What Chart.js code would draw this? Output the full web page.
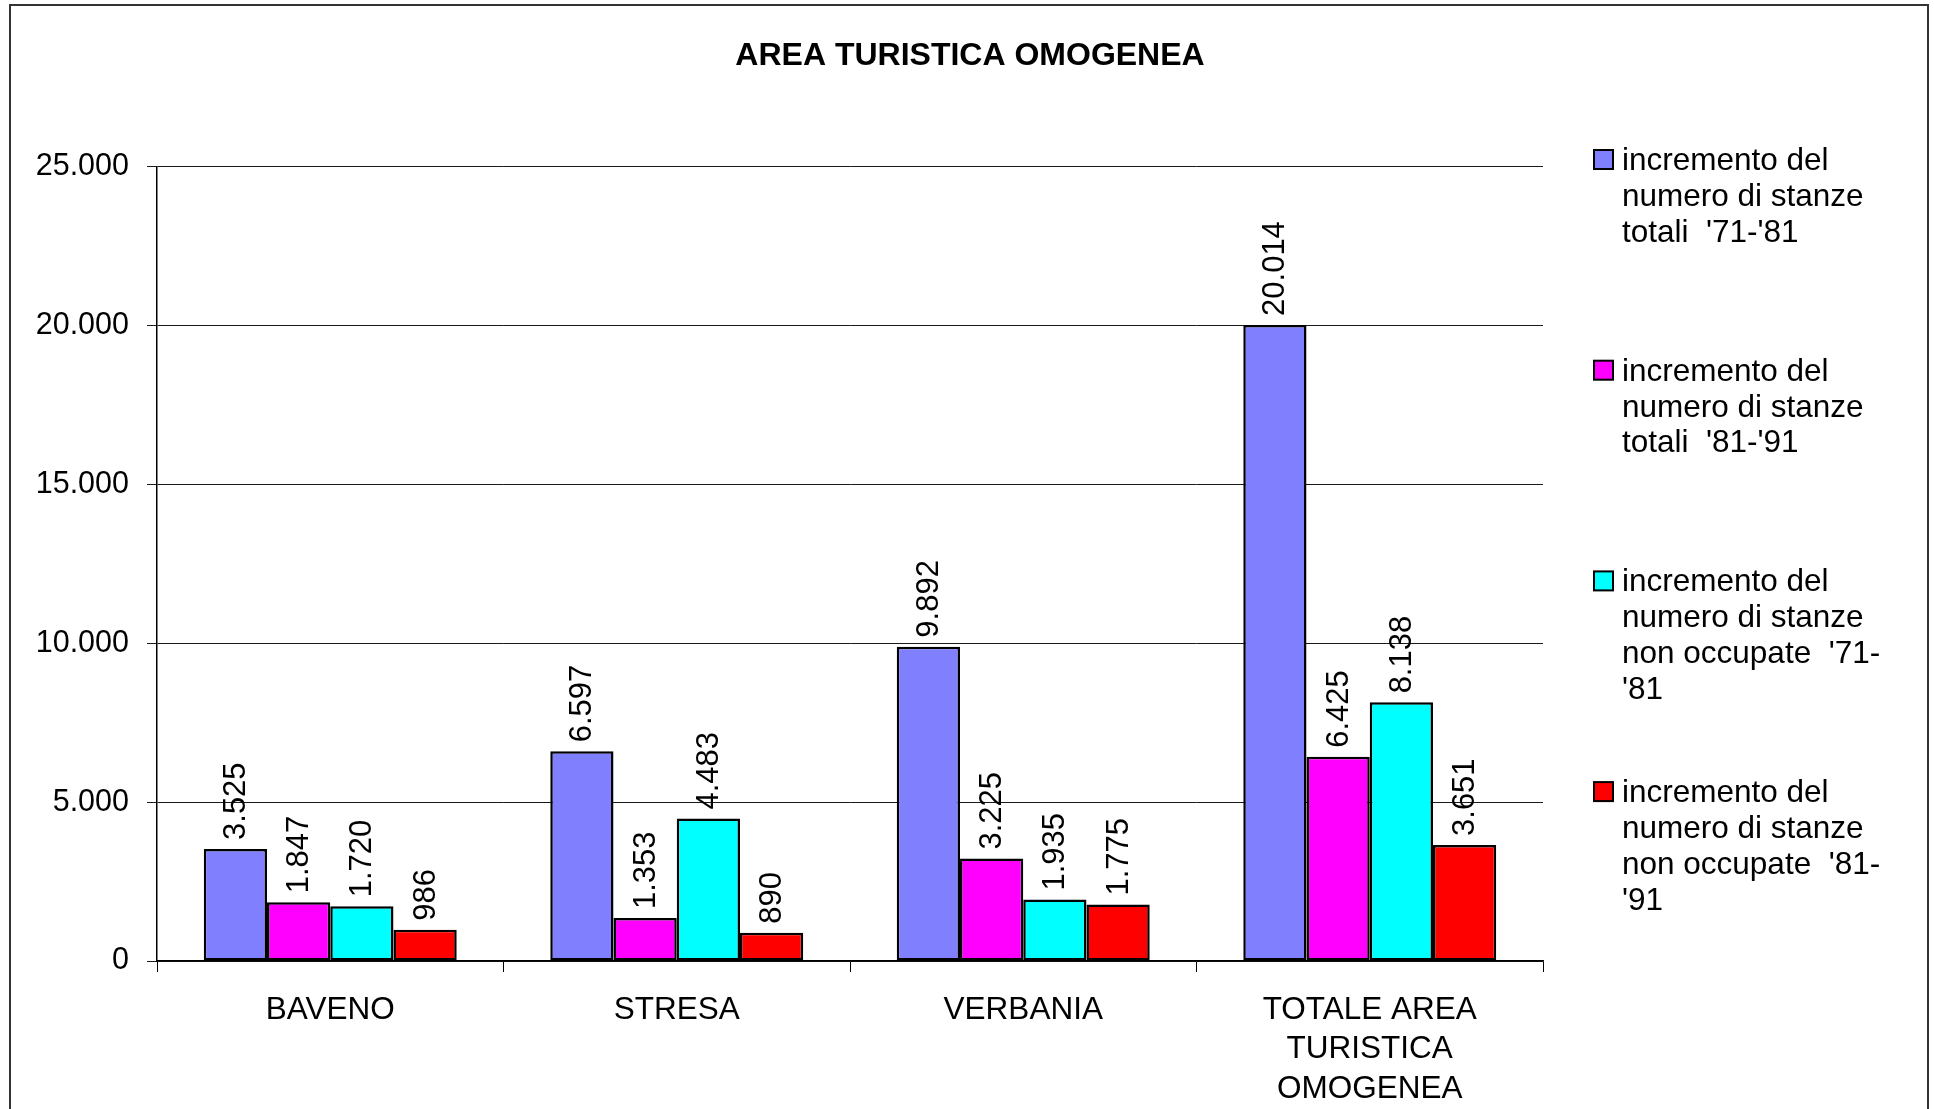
<!DOCTYPE html>
<html lang="it">
<head>
<meta charset="utf-8">
<title>Area turistica omogenea</title>
<script src="https://cdn.jsdelivr.net/npm/chart.js@4.4.1/dist/chart.umd.min.js"></script>
<style>
  html, body { margin: 0; padding: 0; background: #fff; overflow: hidden; }
</style>
</head>
<body>
<canvas id="chart" width="1934" height="1109"></canvas>
<script>
// Dati
const chartTitle = 'AREA TURISTICA OMOGENEA';
const categories = ['BAVENO', 'STRESA', 'VERBANIA', ['TOTALE AREA', 'TURISTICA', 'OMOGENEA']];
const totali7181 = [3525, 6597, 9892, 20014];
const totali8191 = [1847, 1353, 3225, 6425];
const nonOccupate7181 = [1720, 4483, 1935, 8138];
const nonOccupate8191 = [986, 890, 1775, 3651];
const seriesLegend = [
    ['incremento del', 'numero di stanze', "totali  '71-'81"],
    ['incremento del', 'numero di stanze', "totali  '81-'91"],
    ['incremento del', 'numero di stanze', "non occupate  '71-", "'81"],
    ['incremento del', 'numero di stanze', "non occupate  '81-", "'91"]
];
const seriesColors = ['#8080FF', '#FF00FF', '#00FFFF', '#FF0000'];
const yMax = 25000;
const yStep = 5000;

const FONT = '"Liberation Sans", Arial, sans-serif';
Chart.defaults.font.family = FONT;
Chart.defaults.color = '#000';

// 25000 -> "25.000"
function formatIt(n) {
    return String(n).replace(/\B(?=(\d{3})+(?!\d))/g, '.');
}

// Cornice esterna, sfondo bianco e titolo centrato sulla pagina
const framePlugin = {
    id: 'frame',
    beforeDraw(chart) {
        const ctx = chart.ctx;
        ctx.save();
        ctx.fillStyle = '#fff';
        ctx.fillRect(0, 0, chart.width, chart.height);
        ctx.strokeStyle = '#333';
        ctx.lineWidth = 2;
        ctx.strokeRect(10, 5, 1918, chart.height + 20);
        ctx.fillStyle = '#000';
        ctx.font = 'bold 32px ' + FONT;
        ctx.textAlign = 'center';
        ctx.textBaseline = 'alphabetic';
        ctx.fillText(chartTitle, 970, 65);
        ctx.restore();
    }
};

// Etichette verticali sopra le barre
const valueLabels = {
    id: 'valueLabels',
    afterDatasetsDraw(chart) {
        const ctx = chart.ctx;
        ctx.save();
        ctx.font = '31px ' + FONT;
        ctx.fillStyle = '#000';
        ctx.textAlign = 'left';
        ctx.textBaseline = 'middle';
        chart.data.datasets.forEach((ds, i) => {
            chart.getDatasetMeta(i).data.forEach((bar, j) => {
                ctx.save();
                ctx.translate(bar.x, bar.y - 9);
                ctx.rotate(-Math.PI / 2);
                ctx.fillText(formatIt(ds.data[j]), 0, 1);
                ctx.restore();
            });
        });
        ctx.restore();
    }
};

// Legenda a destra, su più righe
const sideLegend = {
    id: 'sideLegend',
    afterDraw(chart) {
        const ctx = chart.ctx;
        ctx.save();
        ctx.font = '31.5px ' + FONT;
        ctx.textAlign = 'left';
        ctx.textBaseline = 'alphabetic';
        chart.data.datasets.forEach((ds, i) => {
            const base = 170 + i * 210.7;
            ctx.fillStyle = ds.backgroundColor;
            ctx.fillRect(1594, base - 20, 19, 19);
            ctx.strokeStyle = '#000';
            ctx.lineWidth = 2;
            ctx.strokeRect(1594, base - 20, 19, 19);
            ctx.fillStyle = '#000';
            seriesLegend[i].forEach((line, k) => {
                ctx.fillText(line, 1622, base + k * 35.8);
            });
        });
        ctx.restore();
    }
};

const seriesData = [totali7181, totali8191, nonOccupate7181, nonOccupate8191];

const ctx = document.getElementById('chart').getContext('2d');
new Chart(ctx, {
    type: 'bar',
    data: {
        labels: categories,
        datasets: seriesData.map((values, i) => ({
            label: seriesLegend[i].join(' '),
            data: values,
            backgroundColor: seriesColors[i],
            borderColor: '#000',
            borderWidth: 2.5,
            borderSkipped: false,
            categoryPercentage: 0.73,
            barPercentage: 1.0
        }))
    },
    options: {
        responsive: false,
        animation: false,
        layout: { padding: { left: 10, right: 391, top: 166.5, bottom: 0 } },
        plugins: {
            legend: { display: false },
            tooltip: { enabled: false },
            title: { display: false }
        },
        scales: {
            x: {
                grid: {
                    offset: true,
                    drawOnChartArea: false,
                    drawTicks: true,
                    tickLength: 11,
                    color: '#000',
                    lineWidth: 1
                },
                border: { display: true, color: '#000', width: 1.5 },
                ticks: {
                    font: { size: 31.5, lineHeight: 1.26 },
                    color: '#000',
                    padding: 18,
                    maxRotation: 0,
                    autoSkip: false
                },
                afterFit(scale) { scale.height = 148; }
            },
            y: {
                min: 0,
                max: yMax,
                grid: {
                    color: '#1a1a1a',
                    lineWidth: 1,
                    tickLength: 10
                },
                border: { display: true, color: '#000', width: 1.5 },
                ticks: {
                    stepSize: yStep,
                    font: { size: 30.5 },
                    color: '#000',
                    padding: 18,
                    callback: v => formatIt(v)
                },
                afterFit(scale) { scale.width = 147; }
            }
        }
    },
    plugins: [framePlugin, valueLabels, sideLegend]
});
</script>
</body>
</html>
